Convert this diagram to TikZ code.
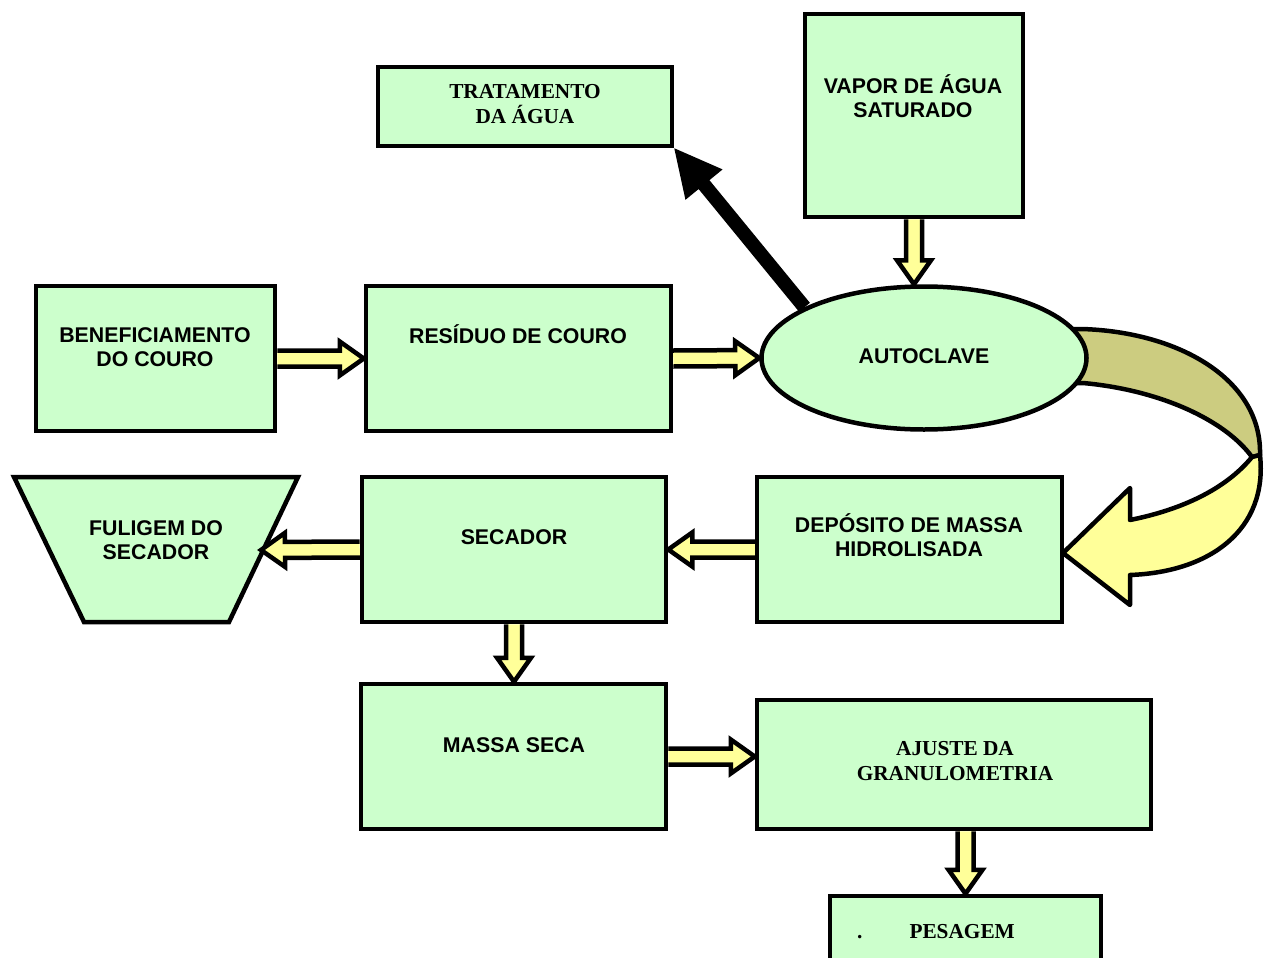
\documentclass[tikz,border=0pt]{standalone}
\usepackage{fontspec}
\setmainfont{Liberation Serif}
\newfontfamily\arialf{Liberation Sans}
\usetikzlibrary{calc,shapes.geometric}
\definecolor{boxg}{HTML}{CCFFCC}
\definecolor{arry}{HTML}{FFFF99}
\definecolor{bandol}{HTML}{CCCC80}
\tikzset{
  box/.style={draw=black, line width=4.5pt, fill=boxg, inner sep=0pt},
  ellbox/.style={ellipse, draw=black, line width=4.5pt, fill=boxg, inner sep=0pt},
  atxt/.style={anchor=north, inner sep=0pt, align=center, font=\arialf\bfseries\fontsize{21.3}{24.5}\selectfont},
  ttxt/.style={anchor=north, inner sep=0pt, align=center, font=\bfseries\fontsize{21.3}{25}\selectfont},
  yarrow/.style={draw=black, line width=4.5pt, fill=arry, line join=miter},
  band/.style={draw=black, line width=4.5pt, line join=round},
}
% block arrow from #1 (tail) to #2 (tip)
\newcommand\blockarr[2]{%
  \coordinate (hb) at ($(#2)!24pt!(#1)$);
  \filldraw[yarrow] ($(#1)!8pt!90:(#2)$) -- ($(hb)!8pt!90:(#2)$) -- ($(hb)!17pt!90:(#2)$) -- (#2)
    -- ($(hb)!17pt!-90:(#2)$) -- ($(hb)!8pt!-90:(#2)$) -- ($(#1)!8pt!-90:(#2)$);
}
\begin{document}
\begin{tikzpicture}[x=1pt,y=-1pt]
\clip (0,0) rectangle (1266,958);
\fill[white] (0,0) rectangle (1266,958);

% curved arrow band (behind the autoclave)
\filldraw[band, fill=bandol] (1050,329) -- (1082,329) .. controls (1180,332) and (1262,380) .. (1260,455)
   -- (1252,457) .. controls (1225,420) and (1160,390) .. (1083,383) -- (1050,383);
\filldraw[band, fill=arry] (1252,457) .. controls (1225,490) and (1180,510) .. (1130,520) -- (1130,488)
   -- (1063,553) -- (1130,605) -- (1130,575) .. controls (1210,572) and (1268,530) .. (1260,455) -- cycle;

% boxes
\node[box, minimum width=294pt, minimum height=79pt] (trat) at (525,106.5) {};
\node[box, minimum width=218pt, minimum height=203pt] (vapor) at (914,115.5) {};
\node[box, minimum width=239pt, minimum height=145pt] (benef) at (155.5,358.5) {};
\node[box, minimum width=305pt, minimum height=145pt] (res) at (518.5,358.5) {};
\node[ellbox, minimum width=325pt, minimum height=143pt] (auto) at (924,358) {};
\node[box, minimum width=304pt, minimum height=145pt] (sec) at (514,549.5) {};
\node[box, minimum width=305pt, minimum height=145pt] (dep) at (909.5,549.5) {};
\node[box, minimum width=305pt, minimum height=145pt] (massa) at (513.5,756.5) {};
\node[box, minimum width=394pt, minimum height=129pt] (aj) at (954,764.5) {};
\node[box, minimum width=271pt, minimum height=94pt] (pes) at (965.5,943) {};
\filldraw[box, line join=miter] (14,477) -- (298,477) -- (229,622) -- (84,622) -- cycle;
\coordinate (ful) at (261,550);

% texts
\node[ttxt] (trat-t) at (525,78) {\rule{0pt}{20pt}TRATAMENTO\\DA ÁGUA};
\node[atxt] (vapor-t) at (913,73) {\rule{0pt}{20pt}VAPOR DE ÁGUA\\SATURADO};
\node[atxt] (benef-t) at (155,322) {\rule{0pt}{20pt}BENEFICIAMENTO\\DO COURO};
\node[atxt] (res-t) at (518,323) {\rule{0pt}{20pt}RESÍDUO DE COURO};
\node[atxt] (auto-t) at (924,343) {\rule{0pt}{20pt}AUTOCLAVE};
\node[atxt] (ful-t) at (156,515) {\rule{0pt}{20pt}FULIGEM DO\\SECADOR};
\node[atxt] (sec-t) at (514,524) {\rule{0pt}{20pt}SECADOR};
\node[atxt] (dep-t) at (909,512) {\rule{0pt}{20pt}DEPÓSITO DE MASSA\\HIDROLISADA};
\node[atxt] (massa-t) at (514,732) {\rule{0pt}{20pt}MASSA SECA};
\node[ttxt] (aj-t) at (955,735) {\rule{0pt}{20pt}AJUSTE DA\\GRANULOMETRIA};
\node[ttxt, anchor=north west] (pes-t) at (857,918) {\rule{0pt}{20pt}.\hspace{47pt}PESAGEM};

% block arrows
\blockarr{benef.east}{res.west}
\blockarr{res.east}{auto.west}
\coordinate (v1) at (vapor.south);
\coordinate (v2) at (vapor.south |- auto.north);
\blockarr{v1}{v2}
\blockarr{sec.west}{ful}
\blockarr{dep.west}{sec.east}
\coordinate (s1) at (sec.south);
\coordinate (s2) at (sec.south |- massa.north);
\blockarr{s1}{s2}
\coordinate (m1) at (massa.east);
\coordinate (m2) at (massa.east -| aj.west);
\blockarr{m1}{m2}
\coordinate (a1) at (pes.north |- aj.south);
\coordinate (a2) at (pes.north);
\blockarr{a1}{a2}

% black arrow
\coordinate (bt) at (auto.157);
\coordinate (bp) at (trat.south east);
\coordinate (bh) at ($(bp)!47pt!(bt)$);
\fill[black] ($(bt)!7pt!90:(bp)$) -- ($(bh)!7pt!90:(bp)$) -- ($(bh)!24pt!90:(bp)$) -- (bp)
   -- ($(bh)!24pt!-90:(bp)$) -- ($(bh)!7pt!-90:(bp)$) -- ($(bt)!7pt!-90:(bp)$) -- cycle;
\end{tikzpicture}
\end{document}
